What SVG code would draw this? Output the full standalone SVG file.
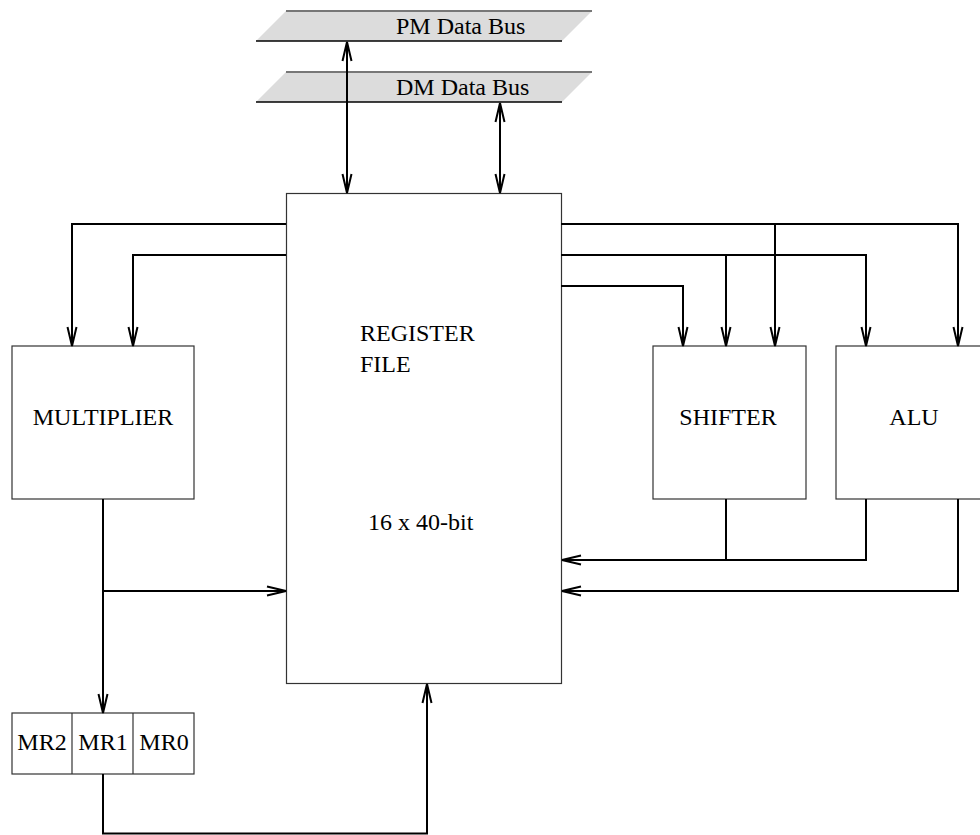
<svg xmlns="http://www.w3.org/2000/svg" width="980" height="835" viewBox="0 0 980 835">
<style>
  text { font-family: "Liberation Serif", "Times New Roman", serif; font-size: 24px; fill: #000; }
  .box { fill: #fff; stroke: #333; stroke-width: 1.2; }
  .conn { fill: none; stroke: #000; stroke-width: 2; }
  .bus { fill: #dcdcdc; stroke: none; }
</style>
<defs>
  <marker id="arr" markerUnits="userSpaceOnUse" markerWidth="22" markerHeight="12" refX="19" refY="5" orient="auto-start-reverse" overflow="visible">
    <path d="M0,0.5 L19,5 L0,9.5" fill="none" stroke="#000" stroke-width="2"/>
  </marker>
</defs>
<g id="pm-bus">
  <polygon class="bus" points="286,11 592,11 562,41 256,41"/>
  <line x1="286" y1="11" x2="592" y2="11" stroke="#777" stroke-width="2"/>
  <line x1="256" y1="41" x2="562" y2="41" stroke="#000" stroke-width="1.5"/>
  <text x="396" y="34">PM Data Bus</text>
</g>
<g id="dm-bus">
  <polygon class="bus" points="286,72 592,72 562,102 256,102"/>
  <line x1="286" y1="72" x2="592" y2="72" stroke="#777" stroke-width="2"/>
  <line x1="256" y1="102" x2="562" y2="102" stroke="#000" stroke-width="1.5"/>
  <text x="396" y="95">DM Data Bus</text>
</g>
<g id="register-file">
  <rect class="box" x="286.5" y="193.5" width="275" height="490"/>
  <text x="360" y="341">REGISTER</text>
  <text x="360" y="372">FILE</text>
  <text x="368" y="530">16 x 40-bit</text>
</g>
<g id="multiplier">
  <rect class="box" x="12" y="346" width="182" height="153"/>
  <text x="103" y="425" text-anchor="middle">MULTIPLIER</text>
</g>
<g id="shifter">
  <rect class="box" x="653" y="346" width="153" height="153"/>
  <text x="728" y="425" text-anchor="middle">SHIFTER</text>
</g>
<g id="alu">
  <rect class="box" x="836" y="346" width="160" height="153"/>
  <text x="914" y="425" text-anchor="middle">ALU</text>
</g>
<g id="mr">
  <rect class="box" x="12" y="713" width="182" height="61"/>
  <line x1="72" y1="713" x2="72" y2="774" stroke="#333" stroke-width="1.2"/>
  <line x1="133" y1="713" x2="133" y2="774" stroke="#333" stroke-width="1.2"/>
  <text x="42" y="750" text-anchor="middle">MR2</text>
  <text x="103" y="750" text-anchor="middle">MR1</text>
  <text x="164" y="750" text-anchor="middle">MR0</text>
</g>
<g id="connectors">
  <line class="conn" x1="347" y1="42" x2="347" y2="193" marker-start="url(#arr)" marker-end="url(#arr)"/>
  <line class="conn" x1="500" y1="103" x2="500" y2="193" marker-start="url(#arr)" marker-end="url(#arr)"/>
  <polyline class="conn" points="286,224 72,224 72,346" marker-end="url(#arr)"/>
  <polyline class="conn" points="286,255 133,255 133,346" marker-end="url(#arr)"/>
  <polyline class="conn" points="561,224 958,224 958,346" marker-end="url(#arr)"/>
  <line class="conn" x1="775" y1="224" x2="775" y2="346" marker-end="url(#arr)"/>
  <polyline class="conn" points="561,255 866,255 866,346" marker-end="url(#arr)"/>
  <line class="conn" x1="726" y1="255" x2="726" y2="346" marker-end="url(#arr)"/>
  <polyline class="conn" points="561,286 683,286 683,346" marker-end="url(#arr)"/>
  <line class="conn" x1="726" y1="499" x2="726" y2="560"/>
  <polyline class="conn" points="866,499 866,560 562,560" marker-end="url(#arr)"/>
  <polyline class="conn" points="958,499 958,591 562,591" marker-end="url(#arr)"/>
  <line class="conn" x1="103" y1="499" x2="103" y2="713" marker-end="url(#arr)"/>
  <line class="conn" x1="103" y1="591" x2="286" y2="591" marker-end="url(#arr)"/>
  <polyline class="conn" points="103,774 103,833.5 427,833.5 427,684" marker-end="url(#arr)"/>
</g>
</svg>
